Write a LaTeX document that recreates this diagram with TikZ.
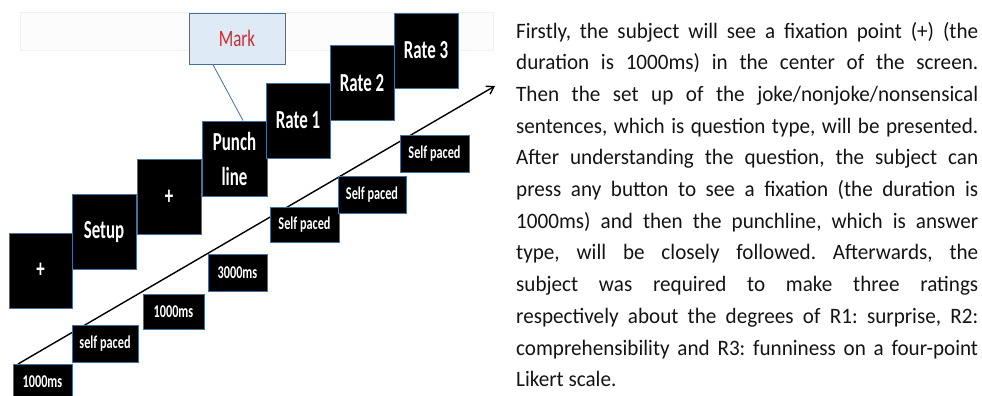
\documentclass[tikz,border=0pt]{standalone}
\usepackage{fontspec}
\setmainfont{Carlito}
\newfontfamily\diagfont[FakeStretch=0.65]{Carlito}
\newfontfamily\durfont[FakeStretch=0.68]{Carlito}
\newfontfamily\markfont[FakeStretch=0.72]{Carlito}
\newfontfamily\bodyfont[FakeStretch=0.96]{Carlito}
\usetikzlibrary{arrows.meta,calc}
\definecolor{edgeblue}{HTML}{41719C}
\definecolor{markfill}{HTML}{DEEBF7}
\definecolor{markred}{HTML}{D02A2A}
\definecolor{bodytext}{HTML}{141414}
\frenchspacing
\tikzset{
  bigbox/.style={draw=edgeblue, fill=black, text=white, line width=0.8pt,
    minimum width=64pt, minimum height=75pt, inner sep=0pt, align=center,
    font=\diagfont\bfseries\fontsize{26}{35}\selectfont},
  durbox/.style={draw=edgeblue, fill=black, text=white, line width=0.8pt,
    minimum height=36pt, inner sep=0pt,
    font=\durfont\bfseries\fontsize{18}{20}\selectfont},
  markbox/.style={draw=edgeblue, fill=markfill, text=markred, line width=0.8pt,
    minimum width=96pt, minimum height=51pt, inner sep=0pt,
    font=\markfont\fontsize{23.5}{26}\selectfont},
  bodyline/.style={anchor=base west, inner sep=0pt, text=bodytext,
    font=\bodyfont\fontsize{22}{31.7}\selectfont},
  timeline/.style={line width=1.4pt, -{Straight Barb[length=7pt,width=9pt,line width=1.4pt]}}
}
\newcommand{\jline}[1]{\makebox[462pt][s]{#1}}
\begin{document}
\begin{tikzpicture}[x=1pt,y=-1pt]
\useasboundingbox (0,0) rectangle (982,396);
\draw[black!6, fill=black!1] (20,12) rectangle (493,50);

% time line
\coordinate (tstart) at (18,364);
\coordinate (tend) at (495,86);
\draw[timeline] (tstart) -- (tend);

% stimulus screens
\node[bigbox, minimum width=63pt] (plusA) at (40.5,270.5) {+};
\node[bigbox] (setup) at (104,232) {Setup};
\node[bigbox] (plusB) at (169,197) {+};
\node[bigbox, minimum width=65pt] (punch) at (234.5,158.5) {Punch\\line};
\node[bigbox] (rateA) at (298,120.5) {Rate 1};
\node[bigbox] (rateB) at (362,83) {Rate 2};
\node[bigbox] (rateC) at (426,50.5) {Rate 3};

% durations
\node[durbox, minimum width=59pt] (dA) at (42.5,382) {1000ms};
\node[durbox, minimum width=66pt, minimum height=37pt] (dB) at (105,343.5) {self paced};
\node[durbox, minimum width=61pt, minimum height=35pt] (dC) at (173.5,311.5) {1000ms};
\node[durbox, minimum width=59pt, minimum height=37pt] (dD) at (237.5,272.5) {3000ms};
\node[durbox, minimum width=69pt, minimum height=35pt] (dE) at (304.5,224.5) {Self paced};
\node[durbox, minimum width=68pt, minimum height=37pt] (dF) at (372,194.5) {Self paced};
\node[durbox, minimum width=69pt, minimum height=37pt] (dG) at (434.5,153.5) {Self paced};

% mark callout
\node[markbox] (mark) at (237,38.5) {Mark};
\draw[edgeblue, line width=0.8pt] ($(mark.south west)!0.25!(mark.south east)$) -- ($(punch.north west)!0.63!(punch.north east)$);

% description
\node[bodyline] (t1) at (516,38.0) {\jline{Firstly, the subject will see a fixation point (+) (the}};
\node[bodyline] (t2) at (516,69.7) {\jline{duration is 1000ms) in the center of the screen.}};
\node[bodyline] (t3) at (516,101.4) {\jline{Then the set up of the joke/nonjoke/nonsensical}};
\node[bodyline] (t4) at (516,133.1) {\jline{sentences, which is question type, will be presented.}};
\node[bodyline] (t5) at (516,164.8) {\jline{After understanding the question, the subject can}};
\node[bodyline] (t6) at (516,196.5) {\jline{press any button to see a fixation (the duration is}};
\node[bodyline] (t7) at (516,228.2) {\jline{1000ms) and then the punchline, which is answer}};
\node[bodyline] (t8) at (516,259.9) {\jline{type, will be closely followed. Afterwards, the}};
\node[bodyline] (t9) at (516,291.6) {\jline{subject was required to make three ratings}};
\node[bodyline] (t10) at (516,323.3) {\jline{respectively about the degrees of R1: surprise, R2:}};
\node[bodyline] (t11) at (516,355.0) {\jline{comprehensibility and R3: funniness on a four-point}};
\node[bodyline] (t12) at (516,386.7) {Likert scale.};
\end{tikzpicture}
\end{document}
